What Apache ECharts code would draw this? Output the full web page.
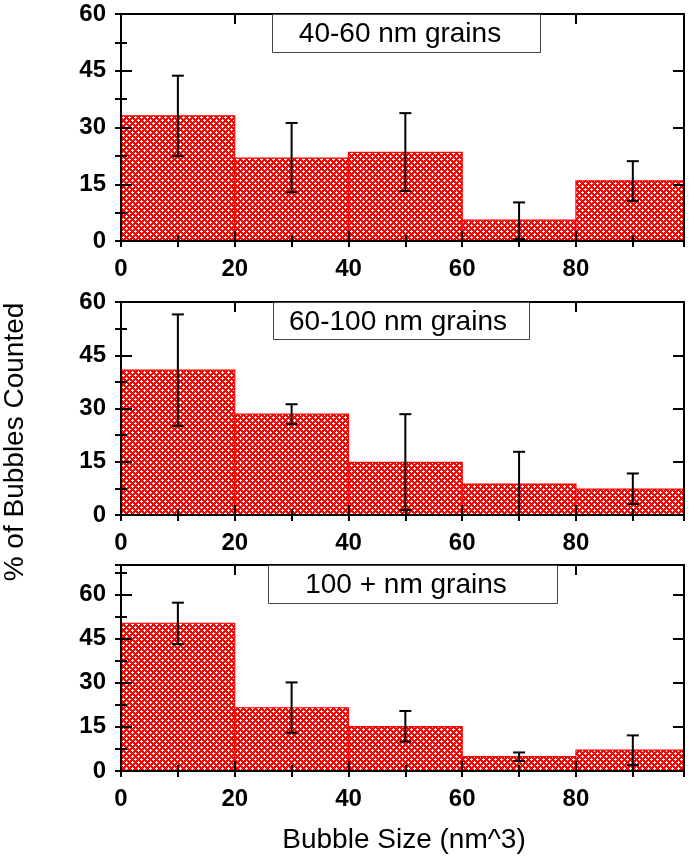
<!DOCTYPE html>
<html><head><meta charset="utf-8">
<script src="https://cdn.jsdelivr.net/npm/echarts@6/dist/echarts.min.js"></script>
<style>html,body{margin:0;padding:0;background:#fff}#c{width:690px;height:863px}</style>
</head><body><div id="c"></div>
<script>
// ---- data ----
const binStart = [0, 20, 40, 60, 80];
const binEnd = [20, 40, 60, 80, 100];
const binCenter = [10, 30, 50, 70, 90];
const panelLabels = ['40-60 nm grains', '60-100 nm grains', '100 + nm grains'];
const pct4060 = [33.1, 21.9, 23.4, 5.5, 15.9];
const errHigh4060 = [43.7, 31.2, 33.8, 10.2, 21.1];
const errLow4060 = [22.5, 12.9, 13.2, 0.5, 10.6];
const pct60100 = [40.8, 28.4, 14.8, 8.7, 7.3];
const errHigh60100 = [56.5, 31.2, 28.4, 17.8, 11.7];
const errLow60100 = [25.1, 25.6, 1.4, 0, 3.1];
const pct100 = [50.2, 21.5, 15.1, 4.9, 7.1];
const errHigh100 = [57.2, 30.1, 20.4, 6.3, 12.1];
const errLow100 = [43.1, 13.0, 10.0, 3.4, 2.0];
const xTickLabels = [0, 20, 40, 60, 80];
const yTickLabels = [0, 15, 30, 45, 60];
const yMaxes = [60, 60, 70];
const xMax = 99;
const xTitle = 'Bubble Size (nm^3)';
const yTitle = '% of Bubbles Counted';

const panels = [
  {v: pct4060, hi: errHigh4060, lo: errLow4060},
  {v: pct60100, hi: errHigh60100, lo: errLow60100},
  {v: pct100, hi: errHigh100, lo: errLow100}
];

// ---- layout / style ----
const FONT = 'Liberation Sans, Arial, sans-serif';
const gridLayout = [
  {left: 121, right: 6, top: 14, height: 227},
  {left: 121, right: 6, top: 302, height: 213},
  {left: 121, right: 6, top: 565, height: 206}
];
const boxLayout = [
  {x: 272.5, y: 14.5, w: 268, h: 38, tx: 400},
  {x: 273.5, y: 302.5, w: 256, h: 37, tx: 398},
  {x: 268.5, y: 565.5, w: 289, h: 38, tx: 406}
];

function makePattern() {
  const c = document.createElement('canvas');
  c.width = 6; c.height = 6;
  const g = c.getContext('2d');
  g.fillStyle = '#ff0000'; g.fillRect(0, 0, 6, 6);
  g.fillStyle = '#ffffff';
  const plus = (x, y) => {
    [[0,0],[1,0],[-1,0],[0,1],[0,-1]].forEach(([dx, dy]) =>
      g.fillRect(((x+dx)%6+6)%6, ((y+dy)%6+6)%6, 1, 1));
  };
  plus(0, 0); plus(3, 3);
  return c;
}
const pattern = {image: makePattern(), repeat: 'repeat'};

const xAxes = [], yAxes = [], series = [], graphics = [];

gridLayout.forEach((gl, p) => {
  const common = {gridIndex: p, type: 'value', min: 0, splitLine: {show: false}, z: 5};
  // x axes
  const xBase = Object.assign({}, common, {max: xMax});
  xAxes.push(Object.assign({}, xBase, {
    position: 'bottom', interval: 20,
    axisLine: {show: true, onZero: false, lineStyle: {color: '#000', width: 2}},
    axisTick: {show: true, inside: true, length: 10, lineStyle: {color: '#000', width: 2}},
    axisLabel: {show: true, margin: 16, color: '#000', fontSize: 24, fontWeight: 'bold', fontFamily: FONT,
      formatter: v => xTickLabels.includes(v) ? String(v) : ''}
  }));
  xAxes.push(Object.assign({}, xBase, {
    position: 'bottom', interval: 10,
    axisLine: {show: false},
    axisTick: {show: true, inside: true, length: 6, lineStyle: {color: '#000', width: 2}},
    axisLabel: {show: false}
  }));
  xAxes.push(Object.assign({}, xBase, {
    position: 'top', interval: 20,
    axisLine: {show: true, onZero: false, lineStyle: {color: '#000', width: 2}},
    axisTick: {show: true, inside: true, length: 10, lineStyle: {color: '#000', width: 2}},
    axisLabel: {show: false}
  }));
  xAxes.push(Object.assign({}, xBase, {
    position: 'top', interval: 10,
    axisLine: {show: false},
    axisTick: {show: true, inside: true, length: 6, lineStyle: {color: '#000', width: 2}},
    axisLabel: {show: false}
  }));
  // y axes
  const yBase = Object.assign({}, common, {max: yMaxes[p]});
  yAxes.push(Object.assign({}, yBase, {
    position: 'left', interval: 15,
    axisLine: {show: true, onZero: false, lineStyle: {color: '#000', width: 2}},
    axisTick: {show: true, inside: true, length: 11, lineStyle: {color: '#000', width: 2}},
    axisLabel: {show: true, margin: 15, color: '#000', fontSize: 24, fontWeight: 'bold', fontFamily: FONT,
      formatter: v => yTickLabels.includes(v) ? String(v) : ''}
  }));
  yAxes.push(Object.assign({}, yBase, {
    position: 'left', interval: 7.5,
    axisLine: {show: false},
    axisTick: {show: true, inside: true, length: 6, lineStyle: {color: '#000', width: 2}},
    axisLabel: {show: false}
  }));
  yAxes.push(Object.assign({}, yBase, {
    position: 'right', interval: 15,
    axisLine: {show: true, onZero: false, lineStyle: {color: '#000', width: 2}},
    axisTick: {show: true, inside: true, length: 11, lineStyle: {color: '#000', width: 2}},
    axisLabel: {show: false}
  }));
  yAxes.push(Object.assign({}, yBase, {
    position: 'right', interval: 7.5,
    axisLine: {show: false},
    axisTick: {show: true, inside: true, length: 6, lineStyle: {color: '#000', width: 2}},
    axisLabel: {show: false}
  }));

  const pd = panels[p];
  // histogram bars
  series.push({
    type: 'custom', xAxisIndex: p * 4, yAxisIndex: p * 4, z: 2,
    data: binStart.map((s, i) => [s, binEnd[i], pd.v[i]]),
    renderItem: (params, api) => {
      const p0 = api.coord([api.value(0), api.value(2)]);
      const p1 = api.coord([api.value(1), 0]);
      const cs = params.coordSys;
      const r = echarts.graphic.clipRectByRect(
        {x: p0[0], y: p0[1], width: p1[0] - p0[0], height: p1[1] - p0[1]},
        {x: cs.x, y: cs.y, width: cs.width, height: cs.height});
      if (!r) return;
      return {type: 'rect', shape: r, style: {fill: pattern, stroke: '#ff0000', lineWidth: 1.2}};
    }
  });
  // error bars
  series.push({
    type: 'custom', xAxisIndex: p * 4, yAxisIndex: p * 4, z: 6,
    data: binCenter.map((c, i) => [c, pd.lo[i], pd.hi[i]]),
    renderItem: (params, api) => {
      const a = api.coord([api.value(0), api.value(1)]);
      const b = api.coord([api.value(0), api.value(2)]);
      const hw = 6;
      const st = {stroke: '#000', lineWidth: 2};
      return {type: 'group', children: [
        {type: 'line', shape: {x1: a[0], y1: a[1], x2: b[0], y2: b[1]}, style: st},
        {type: 'line', shape: {x1: a[0] - hw, y1: a[1], x2: a[0] + hw, y2: a[1]}, style: st},
        {type: 'line', shape: {x1: b[0] - hw, y1: b[1], x2: b[0] + hw, y2: b[1]}, style: st}
      ]};
    }
  });

  const bl = boxLayout[p];
  graphics.push({
    type: 'rect', z: 10,
    shape: {x: bl.x, y: bl.y, width: bl.w, height: bl.h},
    style: {fill: '#fff', stroke: '#444', lineWidth: 1}
  });
  graphics.push({
    type: 'text', z: 11, x: bl.tx, y: bl.y + bl.h / 2 + 1,
    style: {text: panelLabels[p], fill: '#000', font: '28px ' + FONT, align: 'center', verticalAlign: 'middle'}
  });
});

graphics.push({
  type: 'text', x: 404, y: 840,
  style: {text: xTitle, fill: '#000', font: '28px ' + FONT, align: 'center', verticalAlign: 'middle'}
});
graphics.push({
  type: 'text', x: 15, y: 442, rotation: Math.PI / 2,
  style: {text: yTitle, fill: '#000', font: '28px ' + FONT, align: 'center', verticalAlign: 'middle'}
});

const chart = echarts.init(document.getElementById('c'), null, {renderer: 'canvas'});
chart.setOption({
  animation: false,
  backgroundColor: '#fff',
  grid: gridLayout,
  xAxis: xAxes,
  yAxis: yAxes,
  series: series,
  graphic: graphics
});
</script>
</body></html>
